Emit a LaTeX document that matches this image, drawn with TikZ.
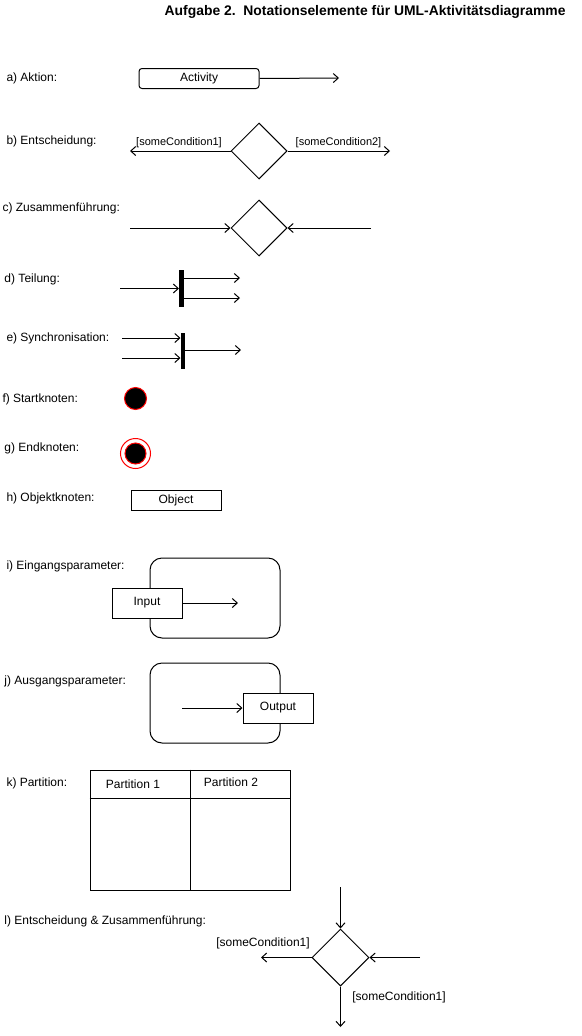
\documentclass[tikz,border=0pt]{standalone}
\usepackage{fontspec}
\setmainfont{Liberation Sans}
\usetikzlibrary{arrows.meta,shapes.geometric}
\begin{document}
\begin{tikzpicture}[x=1pt,y=-1pt,line width=1pt,
  lbl/.style={anchor=west,inner sep=0pt,font=\fontsize{12}{14}\selectfont},
  txt/.style={inner sep=0pt,font=\fontsize{12}{14}\selectfont},
  cond/.style={inner sep=0pt,font=\fontsize{11}{13}\selectfont},
  flow/.style={-{Straight Barb[length=5pt,width=9pt,line width=1pt]}},
  dec/.style={draw,diamond,aspect=1,inner sep=0pt,minimum width=56,minimum height=56},
  actionbox/.style={draw,rounded corners=3pt,minimum width=120,minimum height=20,inner sep=0pt,font=\fontsize{12}{14}\selectfont},
  objbox/.style={draw,fill=white,inner sep=0pt,font=\fontsize{12}{14}\selectfont},
  bar/.style={fill=black,draw=black,line width=0.5pt,inner sep=0pt,minimum width=3.5,minimum height=36},
  activity/.style={draw,rounded corners=12pt,minimum width=130,minimum height=80,inner sep=0pt}
]
\useasboundingbox (0,0) rectangle (581,1036);

% title
\node[anchor=east,inner sep=0pt,font=\fontsize{13.9}{16}\selectfont\bfseries] (title) at (566,12)
  {Aufgabe 2.\ \ Notationselemente für UML-Aktivitätsdiagramme};

% a) action
\node[lbl] (la) at (6,78) {a) Aktion:};
\node[actionbox] (act) at (199,78.5) {Activity};
\coordinate (acte) at (339,78);
\draw[flow] (act.east) -- (acte);

% b) decision
\node[lbl] (lb) at (6,141) {b) Entscheidung:};
\node[dec] (d1) at (259,151) {};
\coordinate (d1l) at (130,151);
\coordinate (d1r) at (390,151);
\draw[flow] (d1.west) -- (d1l);
\draw[flow] (d1.east) -- (d1r);
\node[cond] (c1) at (179,143) {[someCondition1]};
\node[cond] (c2) at (338.5,143) {[someCondition2]};

% c) merge
\node[lbl] (lc) at (2,208) {c) Zusammenführung:};
\node[dec] (d2) at (259,228) {};
\coordinate (d2l) at (130,228);
\coordinate (d2r) at (371,228);
\draw[flow] (d2l) -- (d2.west);
\draw[flow] (d2r) -- (d2.east);

% d) fork
\node[lbl] (ld) at (4,279) {d) Teilung:};
\node[bar] (fork) at (181,288.5) {};
\coordinate (fin) at (120,288.5);
\coordinate (fo1) at (240,278);
\coordinate (fo2) at (240,298);
\draw[flow] (fin) -- (fin -| fork.west);
\draw[flow] (fork.east |- fo1) -- (fo1);
\draw[flow] (fork.east |- fo2) -- (fo2);

% e) join
\node[lbl] (le) at (6,338) {e) Synchronisation:};
\node[bar,minimum height=35] (join) at (182.5,350.5) {};
\coordinate (ji1) at (122,338);
\coordinate (ji2) at (122,358);
\coordinate (jo) at (241,350);
\draw[flow] (ji1) -- (ji1 -| join.west);
\draw[flow] (ji2) -- (ji2 -| join.west);
\draw[flow] (join.east |- jo) -- (jo);

% f) initial node
\node[lbl] (lf) at (2,399) {f) Startknoten:};
\node[circle,fill=black,draw=red,inner sep=0pt,minimum size=22] (start) at (135.5,398.5) {};

% g) final node
\node[lbl] (lg) at (4,448) {g) Endknoten:};
\node[circle,fill=white,draw=red,inner sep=0pt,minimum size=30] (endo) at (135.5,453.5) {};
\node[circle,fill=black,draw=red,inner sep=0pt,minimum size=21] (endi) at (135.5,453.5) {};

% h) object node
\node[lbl] (lh) at (6,498) {h) Objektknoten:};
\node[objbox,minimum width=90,minimum height=20] (obj) at (176,500) {Object};

% i) input parameter
\node[lbl] (li) at (6,566) {i) Eingangsparameter:};
\node[activity] (ac1) at (215,598) {};
\node[objbox,minimum width=70,minimum height=30] (inp) at (147,603) {Input};
\coordinate (inpe) at (238,603);
\draw[flow] (inp.east) -- (inpe);

% j) output parameter
\node[lbl] (lj) at (4,681) {j) Ausgangsparameter:};
\node[activity] (ac2) at (215,703) {};
\node[objbox,minimum width=70,minimum height=30] (outp) at (278,708) {Output};
\coordinate (outs) at (182,708);
\draw[flow] (outs) -- (outp.west);

% k) partition
\node[lbl] (lk) at (6,783) {k) Partition:};
\node[draw,minimum width=200,minimum height=120,inner sep=0pt] (part) at (190,830) {};
\coordinate (hd) at (190,798);
\draw (part.west |- hd) -- (part.east |- hd);
\draw (part.north) -- (part.south);
\node[txt] (p1) at (133,784) {Partition 1};
\node[txt] (p2) at (231,782) {Partition 2};

% l) decision and merge
\node[lbl] (ll) at (4,921) {l) Entscheidung \& Zusammenführung:};
\node[dec,minimum width=57,minimum height=57] (d3) at (340.5,957.5) {};
\coordinate (d3t) at (340.5,887);
\coordinate (d3r) at (420,957.5);
\coordinate (d3l) at (261,957.5);
\coordinate (d3b) at (340.5,1027);
\draw[flow] (d3t) -- (d3.north);
\draw[flow] (d3r) -- (d3.east);
\draw[flow] (d3.west) -- (d3l);
\draw[flow] (d3.south) -- (d3b);
\node[txt] (c3) at (263,943) {[someCondition1]};
\node[txt] (c4) at (399,997) {[someCondition1]};
\end{tikzpicture}
\end{document}
